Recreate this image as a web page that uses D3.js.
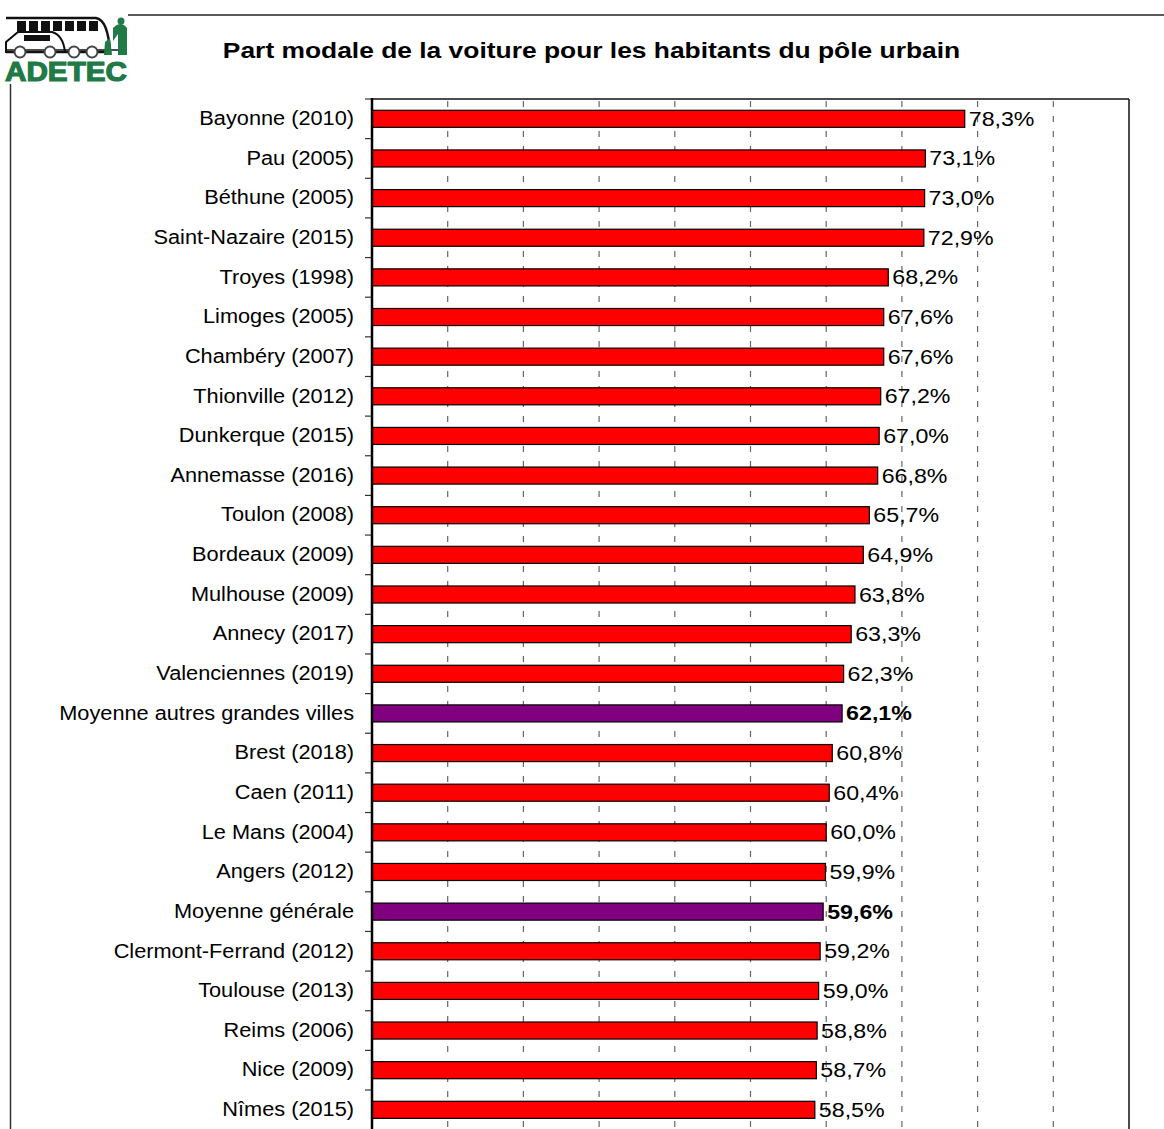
<!DOCTYPE html>
<html>
<head>
<meta charset="utf-8">
<script src="https://cdn.jsdelivr.net/npm/d3@7"></script>
<style>
  body { margin: 0; background: #fff; }
  svg { display: block; font-family: "Liberation Sans", Arial, sans-serif; }
</style>
</head>
<body>
<svg id="chart" width="1164" height="1129"></svg>
<script>
const cities = [
  'Bayonne (2010)', 'Pau (2005)', 'Béthune (2005)', 'Saint-Nazaire (2015)', 'Troyes (1998)',
  'Limoges (2005)', 'Chambéry (2007)', 'Thionville (2012)', 'Dunkerque (2015)', 'Annemasse (2016)',
  'Toulon (2008)', 'Bordeaux (2009)', 'Mulhouse (2009)', 'Annecy (2017)', 'Valenciennes (2019)',
  'Moyenne autres grandes villes', 'Brest (2018)', 'Caen (2011)', 'Le Mans (2004)', 'Angers (2012)',
  'Moyenne générale', 'Clermont-Ferrand (2012)', 'Toulouse (2013)', 'Reims (2006)', 'Nice (2009)',
  'Nîmes (2015)'
];
const shares = [
  78.3, 73.1, 73.0, 72.9, 68.2,
  67.6, 67.6, 67.2, 67.0, 66.8,
  65.7, 64.9, 63.8, 63.3, 62.3,
  62.1, 60.8, 60.4, 60.0, 59.9,
  59.6, 59.2, 59.0, 58.8, 58.7,
  58.5
];
const averages = ['Moyenne autres grandes villes', 'Moyenne générale'];
const gridTicks = [10, 20, 30, 40, 50, 60, 70, 80, 90];

const data = cities.map((name, i) => ({ name, value: shares[i], avg: averages.includes(name) }));
const fmt = v => v.toFixed(1).replace('.', ',') + '%';

/* frame of the plot */
const plotLeft = 372, plotRight = 1129, plotTop = 99, rowStep = 39.64;
const plotBottom = plotTop + rowStep * cities.length;
/* the source text is a bit stretched sideways */
const labelStretch = 1.115;
const valueStretch = 1.19;

const svg = d3.select('#chart');

/* page frame lines */
svg.append('line').attr('x1', 128).attr('x2', 1164).attr('y1', 15).attr('y2', 15)
  .attr('stroke', '#222').attr('stroke-width', 1.5);
svg.append('line').attr('x1', 10.5).attr('x2', 10.5).attr('y1', 84).attr('y2', 1129)
  .attr('stroke', '#333').attr('stroke-width', 1.5);

/* logo */
const logo = svg.append('g');
logo.append('path').attr('d', 'M6,18 L96,18 Q108,20 110,52 L6,52')
  .attr('fill', '#fff').attr('stroke', '#111').attr('stroke-width', 2.5);
for (let i = 0; i < 7; i++) {
  logo.append('rect').attr('x', 17 + i * 12).attr('y', 21).attr('width', 9).attr('height', 10).attr('fill', '#111');
}
logo.append('path').attr('d', 'M6,42 L18,32 L52,32 Q63,35 65,52 L6,52 Z')
  .attr('fill', '#fff').attr('stroke', '#111').attr('stroke-width', 2);
logo.append('rect').attr('x', 24).attr('y', 35).attr('width', 26).attr('height', 6).attr('fill', '#111');
logo.append('line').attr('x1', 6).attr('x2', 118).attr('y1', 50).attr('y2', 50).attr('stroke', '#111').attr('stroke-width', 1.5);
[20, 50, 74, 92].forEach(cx => {
  logo.append('circle').attr('cx', cx).attr('cy', 52).attr('r', 5.5).attr('fill', '#fff').attr('stroke', '#444').attr('stroke-width', 2);
});
logo.append('path').attr('d', 'M118,55 L118,34 L113,41 L113,28 Q121,20 127,28 L127,55 Z').attr('fill', '#1f7a45');
logo.append('circle').attr('cx', 121).attr('cy', 21).attr('r', 3.5).attr('fill', '#1f7a45');
logo.append('path').attr('d', 'M104,55 L105,42 L110,38 L112,55 Z').attr('fill', '#1f7a45');
logo.append('text').attr('x', 5).attr('y', 81)
  .attr('font-size', 27).attr('font-weight', 'bold').attr('fill', '#1f7a45')
  .attr('stroke', '#1f7a45').attr('stroke-width', 1.2)
  .attr('textLength', 122).attr('lengthAdjust', 'spacingAndGlyphs').text('ADETEC');

/* title */
svg.append('text')
  .attr('transform', `translate(591.5,58) scale(1.2,1)`)
  .attr('text-anchor', 'middle')
  .attr('font-size', 22).attr('font-weight', 'bold').attr('fill', '#000')
  .text('Part modale de la voiture pour les habitants du pôle urbain');

/* scales */
const xScale = d3.scaleLinear().domain([0, 100]).range([plotLeft, plotRight]);
const yScale = d3.scaleBand().domain(cities).range([plotTop, plotBottom]).paddingInner(0.57).paddingOuter(0.285);

/* grid */
svg.append('g').selectAll('line').data(gridTicks).join('line')
  .attr('x1', d => xScale(d)).attr('x2', d => xScale(d))
  .attr('y1', plotTop).attr('y2', plotBottom)
  .attr('stroke', '#666').attr('stroke-width', 1.2).attr('stroke-dasharray', '6,9')
  .attr('stroke-dashoffset', -2);

/* plot borders */
svg.append('line').attr('x1', plotLeft).attr('x2', plotRight).attr('y1', plotTop).attr('y2', plotTop)
  .attr('stroke', '#111').attr('stroke-width', 1.5);
svg.append('line').attr('x1', plotRight).attr('x2', plotRight).attr('y1', plotTop).attr('y2', plotBottom)
  .attr('stroke', '#111').attr('stroke-width', 1.5);

/* bars */
svg.append('g').selectAll('rect').data(data).join('rect')
  .attr('x', xScale(0))
  .attr('y', d => yScale(d.name))
  .attr('width', d => xScale(d.value) - xScale(0))
  .attr('height', yScale.bandwidth())
  .attr('fill', d => d.avg ? '#800080' : '#ff0000')
  .attr('stroke', '#000').attr('stroke-width', 1.2);

/* value labels */
svg.append('g').selectAll('text').data(data).join('text')
  .attr('transform', d => `translate(${xScale(d.value) + 4},${yScale(d.name) + yScale.bandwidth() / 2}) scale(${valueStretch},1)`)
  .attr('dy', '0.36em')
  .attr('font-size', 19.5)
  .attr('font-weight', d => d.avg ? 'bold' : 'normal')
  .attr('fill', '#000')
  .text(d => fmt(d.value));

/* category axis */
const yAxis = d3.axisLeft(yScale).tickSize(0).tickPadding(0);
const gy = svg.append('g').attr('transform', `translate(${plotLeft},0)`).call(yAxis);
gy.select('.domain').remove();
gy.selectAll('text')
  .attr('x', -18 / labelStretch)
  .attr('transform', `scale(${labelStretch},1)`)
  .attr('font-size', 19.5)
  .attr('font-family', '"Liberation Sans", Arial, sans-serif').attr('fill', '#000');

/* tick marks between categories */
svg.append('g').selectAll('line').data(d3.range(cities.length + 1)).join('line')
  .attr('x1', plotLeft - 7).attr('x2', plotLeft)
  .attr('y1', i => plotTop + i * yScale.step()).attr('y2', i => plotTop + i * yScale.step())
  .attr('stroke', '#333').attr('stroke-width', 1.2);
svg.append('line').attr('x1', plotLeft).attr('x2', plotLeft).attr('y1', plotTop - 1).attr('y2', plotBottom)
  .attr('stroke', '#000').attr('stroke-width', 2.5);
</script>
</body>
</html>
